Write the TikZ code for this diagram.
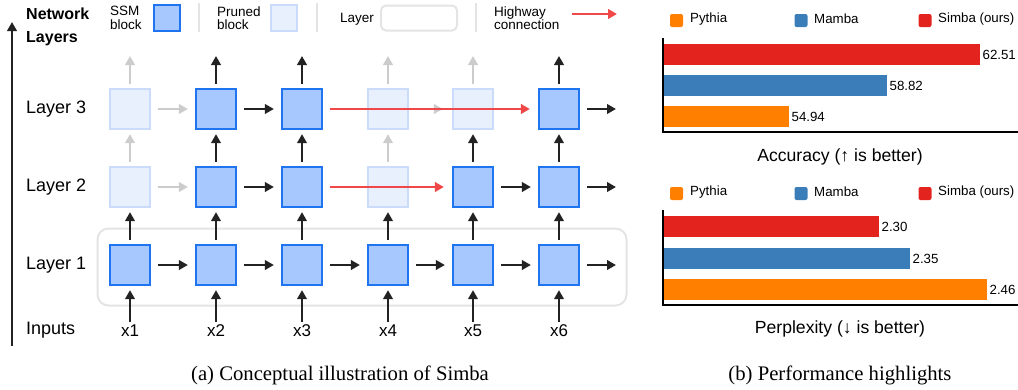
\documentclass[tikz,border=0pt]{standalone}
\usepackage{fontspec}
\setmainfont{Liberation Sans}
\newfontfamily\capfont{Liberation Serif}
\usetikzlibrary{arrows.meta}
\definecolor{ssmF}{HTML}{A6C8FF}
\definecolor{ssmB}{HTML}{1F74F0}
\definecolor{prF}{HTML}{E8F0FE}
\definecolor{prB}{HTML}{CADCFA}
\definecolor{grA}{HTML}{CCCCCC}
\definecolor{arK}{HTML}{222222}
\definecolor{hwR}{HTML}{F04848}
\definecolor{sepG}{HTML}{E4E4E4}
\definecolor{barO}{HTML}{FF7F00}
\definecolor{barB}{HTML}{3A7DB9}
\definecolor{barR}{HTML}{E2231E}
\tikzset{
  ssm/.style={draw=ssmB, fill=ssmF, line width=2.2pt, minimum size=40pt, inner sep=0pt},
  prn/.style={draw=prB, fill=prF, line width=2.2pt, minimum size=40pt, inner sep=0pt},
  arr/.style={line width=2.2pt, draw=arK, -{Triangle[length=9pt,width=9.5pt]}, shorten <=4pt, shorten >=4pt},
  garr/.style={arr, draw=grA},
  harr/.style={line width=2.4pt, draw=hwR, -{Triangle[length=9pt,width=9.5pt]}, shorten <=7pt, shorten >=8pt},
  lbl/.style={inner sep=0pt, font=\fontsize{17}{20}\selectfont},
  rowlbl/.style={inner sep=0pt, anchor=west, font=\fontsize{18}{21}\selectfont},
  legtxt/.style={inner sep=0pt, anchor=west, align=left, font=\fontsize{13.5}{13.5}\selectfont},
  sepline/.style={draw=sepG, line width=1.5pt},
  bar/.style={inner sep=0pt, anchor=west, minimum height=21pt},
  barlbl/.style={inner sep=0pt, anchor=west, xshift=2pt, font=\fontsize{13.3}{15}\selectfont},
  chleg/.style={inner sep=0pt, anchor=west, font=\fontsize{13.3}{15}\selectfont},
  chsq/.style={inner sep=0pt, minimum size=13pt, rounded corners=2pt},
  axisl/.style={line width=1.2pt, draw=black},
  captxt/.style={inner sep=0pt, font=\capfont\fontsize{20.7}{24}\selectfont},
  chtitle/.style={inner sep=0pt, font=\fontsize{17.6}{20}\selectfont},
}
\begin{document}
\begin{tikzpicture}[x=1pt, y=-1pt]
\useasboundingbox (0,0) rectangle (1018,389);

% ---------- left panel: legend ----------
\node[inner sep=0pt, anchor=west, align=left, font=\bfseries\fontsize{16}{23}\selectfont] (netl) at (26,27) {Network\\Layers};
\node[legtxt] (lssm) at (110,18) {SSM\\block};
\node[ssm, minimum size=26pt] (lssmb) at (167,18) {};
\coordinate (s1a) at (199,3); \coordinate (s1b) at (199,32);
\draw[sepline] (s1a) -- (s1b);
\node[legtxt] (lprn) at (217,18) {Pruned\\block};
\node[prn, minimum size=26pt] (lprnb) at (284,18) {};
\coordinate (s2a) at (317,3); \coordinate (s2b) at (317,32);
\draw[sepline] (s2a) -- (s2b);
\node[legtxt] (llay) at (340,19) {Layer};
\node[draw=sepG, line width=2pt, rounded corners=5pt, minimum width=76pt, minimum height=25pt, inner sep=0pt] (llayb) at (419,18) {};
\coordinate (s3a) at (476,3); \coordinate (s3b) at (476,32);
\draw[sepline] (s3a) -- (s3b);
\node[legtxt] (lhw) at (494,18) {Highway\\connection};
\coordinate (hwa) at (572,14); \coordinate (hwb) at (617,14);
\draw[harr, shorten <=0pt, shorten >=0pt] (hwa) -- (hwb);

% axis arrow
\coordinate (axb) at (12,346); \coordinate (axt) at (12,22);
\draw[arr, line width=2.4pt, shorten <=0pt, shorten >=0pt] (axb) -- (axt);

% layer 1 box
\node[draw=sepG, line width=2pt, rounded corners=11pt, minimum width=529pt, minimum height=77pt, inner sep=0pt] (l1box) at (362,267) {};

% row labels
\node[rowlbl] (r3) at (26,109) {Layer 3};
\node[rowlbl] (r2) at (26,187) {Layer 2};
\node[rowlbl] (r1) at (26,265) {Layer 1};
\node[rowlbl] (rin) at (26,330) {Inputs};

% blocks
\foreach \c/\x/\sb/\sc in {1/130/prn/prn, 2/216/ssm/ssm, 3/302/ssm/ssm, 4/388/prn/prn, 5/473/ssm/prn, 6/559/ssm/ssm}{
  \node[ssm] (b1\c) at (\x,265) {};
  \node[\sb] (b2\c) at (\x,187) {};
  \node[\sc] (b3\c) at (\x,109) {};
  \node[lbl] (x\c) at (\x,331) {x\c};
  \coordinate (t\c) at (\x,56);
}
\coordinate (o1) at (616,265);
\coordinate (o2) at (616,187);
\coordinate (o3) at (616,109);

% input arrows and L1 -> L2
\foreach \c in {1,...,6}{
  \draw[arr, shorten <=3pt] (x\c.north) -- (b1\c.south);
  \draw[arr] (b1\c.north) -- (b2\c.south);
}
% L2 -> L3
\foreach \c in {1,4} \draw[garr] (b2\c.north) -- (b3\c.south);
\foreach \c in {2,3,5,6} \draw[arr] (b2\c.north) -- (b3\c.south);
% top
\foreach \c in {1,4,5} \draw[garr, shorten >=0pt] (b3\c.north) -- (t\c);
\foreach \c in {2,3,6} \draw[arr, shorten >=0pt] (b3\c.north) -- (t\c);

% horizontal
\draw[arr, shorten <=7pt, shorten >=7pt] (b11.east) -- (b12.west);
\draw[arr, shorten <=7pt, shorten >=7pt] (b12.east) -- (b13.west);
\draw[arr, shorten <=7pt, shorten >=7pt] (b13.east) -- (b14.west);
\draw[arr, shorten <=7pt, shorten >=7pt] (b14.east) -- (b15.west);
\draw[arr, shorten <=7pt, shorten >=7pt] (b15.east) -- (b16.west);
\draw[arr, shorten <=7pt, shorten >=0pt] (b16.east) -- (o1);

\draw[garr, shorten <=7pt, shorten >=7pt] (b21.east) -- (b22.west);
\draw[arr, shorten <=7pt, shorten >=7pt] (b22.east) -- (b23.west);
\draw[arr, shorten <=7pt, shorten >=7pt] (b25.east) -- (b26.west);
\draw[arr, shorten <=7pt, shorten >=0pt] (b26.east) -- (o2);

\draw[garr, shorten <=7pt, shorten >=7pt] (b31.east) -- (b32.west);
\draw[arr, shorten <=7pt, shorten >=7pt] (b32.east) -- (b33.west);
\draw[garr, shorten <=7pt, shorten >=9pt] (b34.east) -- (b35.west);
\draw[arr, shorten <=7pt, shorten >=0pt] (b36.east) -- (o3);

% highway
\draw[harr] (b33.east) -- (b36.west);
\draw[harr] (b23.east) -- (b25.west);

\node[captxt] (capa) at (340,375) {(a) Conceptual illustration of Simba};

% ---------- right panel ----------
% accuracy
\node[chsq, fill=barO] (aq1) at (676.5,20.5) {};
\node[chleg] (al1) at (690,19) {Pythia};
\node[chsq, fill=barB] (aq2) at (801,20.5) {};
\node[chleg] (al2) at (814,19) {Mamba};
\node[chsq, fill=barR] (aq3) at (925,20.5) {};
\node[chleg] (al3) at (938,19) {Simba (ours)};

\node[bar, fill=barR, minimum width=317pt] (ab1) at (663,54.5) {};
\node[barlbl] (av1) at (ab1.east) {62.51};
\node[bar, fill=barB, minimum width=224pt] (ab2) at (663,85.5) {};
\node[barlbl] (av2) at (ab2.east) {58.82};
\node[bar, fill=barO, minimum width=126pt] (ab3) at (663,116.5) {};
\node[barlbl] (av3) at (ab3.east) {54.94};
\coordinate (aa0) at (663,38); \coordinate (aa1) at (663,132); \coordinate (aa2) at (1018,132);
\draw[axisl] (aa0) -- (aa1) -- (aa2);
\node[chtitle] (at) at (840,157) {Accuracy (↑ is better)};

% perplexity
\node[chsq, fill=barO] (pq1) at (676.5,193.5) {};
\node[chleg] (pl1) at (690,192) {Pythia};
\node[chsq, fill=barB] (pq2) at (801,193.5) {};
\node[chleg] (pl2) at (814,192) {Mamba};
\node[chsq, fill=barR] (pq3) at (925,193.5) {};
\node[chleg] (pl3) at (938,192) {Simba (ours)};

\node[bar, fill=barR, minimum width=216pt] (pb1) at (663,226.5) {};
\node[barlbl] (pv1) at (pb1.east) {2.30};
\node[bar, fill=barB, minimum width=247pt] (pb2) at (663,258.5) {};
\node[barlbl] (pv2) at (pb2.east) {2.35};
\node[bar, fill=barO, minimum width=324pt] (pb3) at (663,289.5) {};
\node[barlbl] (pv3) at (pb3.east) {2.46};
\coordinate (pa0) at (663,210); \coordinate (pa1) at (663,305); \coordinate (pa2) at (1018,305);
\draw[axisl] (pa0) -- (pa1) -- (pa2);
\node[chtitle] (pt) at (840,329) {Perplexity (↓ is better)};

\node[captxt] (capb) at (840,375) {(b) Performance highlights};
\end{tikzpicture}
\end{document}
